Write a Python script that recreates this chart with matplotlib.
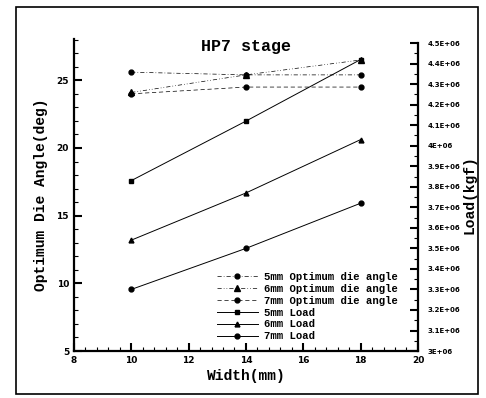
import matplotlib
matplotlib.use("Agg")
import matplotlib.pyplot as plt
from matplotlib.patches import Rectangle
from matplotlib.ticker import MultipleLocator, FuncFormatter

# data
width = [10, 14, 18]
angle_5mm = [25.6, 25.4, 25.4]
angle_6mm = [24.1, 25.4, 26.5]
angle_7mm = [24.0, 24.5, 24.5]
load_5mm = [3.83e6, 4.12e6, 4.42e6]
load_6mm = [3.54e6, 3.77e6, 4.03e6]
load_7mm = [3.30e6, 3.50e6, 3.72e6]

mono = "Liberation Mono"
fig = plt.figure(figsize=(4.86, 3.98), dpi=100)
ax = fig.add_axes([0.152, 0.118, 0.708, 0.784])
ax2 = ax.twinx()
# angle curves sit on top of the load curves
ax.set_zorder(ax2.get_zorder() + 1)
ax.patch.set_visible(False)

ms = 3.5
ax.plot(width, angle_5mm, color="black", lw=0.5, ls=(0, (6, 3, 1, 3)),
        marker="o", ms=ms, label="5mm Optimum die angle")
ax.plot(width, angle_6mm, color="black", lw=0.5, ls=(0, (6, 3, 1, 3, 1, 3)),
        marker="^", ms=ms + 0.5, label="6mm Optimum die angle")
ax.plot(width, angle_7mm, color="black", lw=0.5, ls=(0, (6, 4)),
        marker="o", ms=ms, label="7mm Optimum die angle")
ax2.plot(width, load_5mm, color="black", lw=0.7, ls="-",
         marker="s", ms=ms - 0.5, label="5mm Load")
ax2.plot(width, load_6mm, color="black", lw=0.7, ls="-",
         marker="^", ms=ms, label="6mm Load")
ax2.plot(width, load_7mm, color="black", lw=0.7, ls="-",
         marker="o", ms=ms, label="7mm Load")

ax.set_xlim(8, 20)
ax.set_ylim(5, 28.05)
ax2.set_ylim(3.0e6, 4.52e6)

for a in (ax, ax2):
    a.spines["top"].set_visible(False)
ax.spines["right"].set_visible(False)
ax2.spines["left"].set_visible(False)
ax2.spines["bottom"].set_visible(False)
ax2.spines["right"].set_bounds(3.0e6, 4.5e6)
for s in ("left", "bottom"):
    ax.spines[s].set_linewidth(1.6)
ax2.spines["right"].set_linewidth(1.6)

ax.xaxis.set_major_locator(MultipleLocator(2))
ax.xaxis.set_minor_locator(MultipleLocator(0.4))
ax.yaxis.set_major_locator(MultipleLocator(5))
ax.yaxis.set_minor_locator(MultipleLocator(1))
ax2.yaxis.set_major_locator(MultipleLocator(1e5))
ax2.yaxis.set_minor_locator(MultipleLocator(5e4))


def sci(v, pos):
    m = v / 1e6
    if abs(m - round(m)) < 1e-9:
        return "%dE+06" % round(m)
    return "%.1fE+06" % m


ax2.yaxis.set_major_formatter(FuncFormatter(sci))

ax.tick_params(which="major", direction="in", length=6, width=1.5, labelsize=6.5)
ax.tick_params(which="minor", direction="in", length=3, width=0.8)
ax2.tick_params(which="major", direction="in", length=6, width=1.5, labelsize=5, pad=7)
ax2.tick_params(which="minor", direction="in", length=3, width=0.8)
for lab in ax.get_xticklabels() + ax.get_yticklabels() + ax2.get_yticklabels():
    lab.set_fontweight("bold")

ax.set_xlabel("Width(mm)", family=mono, fontweight="bold", fontsize=10.5, labelpad=3)
ax.set_ylabel("Optimum Die Angle(deg)", family=mono, fontweight="bold", fontsize=10.5, labelpad=6)
ax2.set_ylabel("Load(kgf)", family=mono, fontweight="bold", fontsize=10.5, labelpad=1)

ax.text(0.5, 1.0, "HP7 stage", transform=ax.transAxes, ha="center", va="top",
        family=mono, fontweight="bold", fontsize=12)

h1, l1 = ax.get_legend_handles_labels()
h2, l2 = ax2.get_legend_handles_labels()
leg = ax.legend(h1 + h2, l1 + l2, loc="lower right", bbox_to_anchor=(0.97, 0.0),
                frameon=False, prop={"family": mono, "weight": "bold", "size": 7.7},
                handlelength=3.8, labelspacing=0.18, handletextpad=0.6)

fig.add_artist(Rectangle((16 / 486, 1 - 394 / 398), 462 / 486, 387 / 398,
                         transform=fig.transFigure, fill=False, lw=1.2, ec="black"))

fig.savefig("out.png", dpi=100)
